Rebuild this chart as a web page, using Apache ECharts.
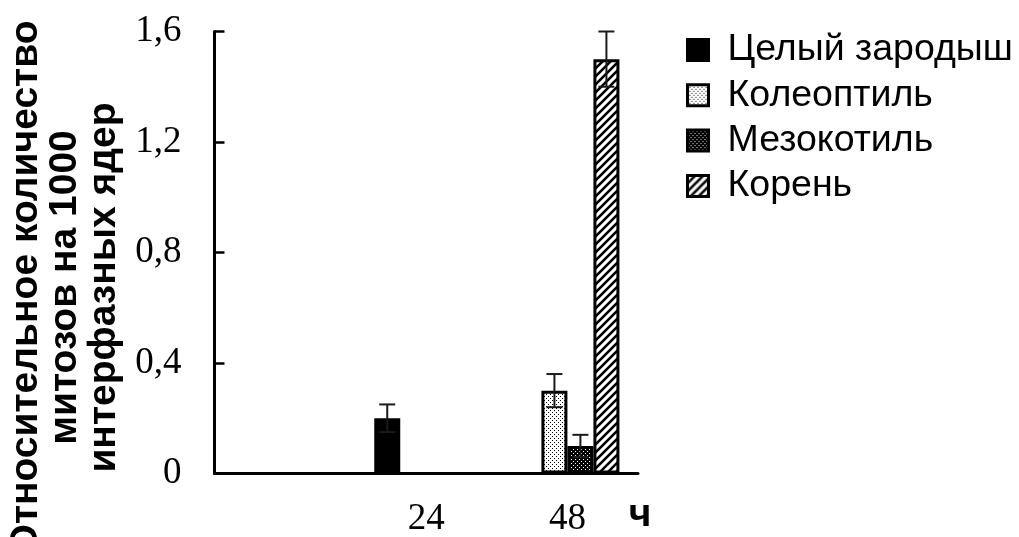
<!DOCTYPE html>
<html>
<head>
<meta charset="utf-8">
<script src="https://cdn.jsdelivr.net/npm/echarts@6/dist/echarts.min.js"></script>
<style>
  html, body { margin: 0; padding: 0; background: #fff; }
  #chart { width: 1019px; height: 537px; }
</style>
</head>
<body>
<div id="chart"></div>
<script>
// Categories along the time axis (hours); the first slot is left empty
const categories = ['', '24', '48'];

// Mean relative mitosis counts per 1000 interphase nuclei (null = not measured)
const seriesNames = ['Целый зародыш', 'Колеоптиль', 'Мезокотиль', 'Корень'];
const wholeEmbryo = [null, 0.2, null];
const coleoptile  = [null, null, 0.3];
const mesocotyl   = [null, null, 0.1];
const root        = [null, null, 1.5];

// Standard errors for the same cells
const wholeEmbryoErr = [null, 0.05, null];
const coleoptileErr  = [null, null, 0.06];
const mesocotylErr   = [null, null, 0.04];
const rootErr        = [null, null, 0.1];

const yTicks = { min: 0, max: 1.6, interval: 0.4 };

const BAR_W = 26;

// Fill textures for the bars
function makePattern(kind) {
  const c = document.createElement('canvas');
  const ctx = c.getContext('2d');
  if (kind === 'light') {
    c.width = 4; c.height = 4;
    ctx.fillStyle = '#fff'; ctx.fillRect(0, 0, 4, 4);
    ctx.fillStyle = '#000';
    ctx.fillRect(0, 0, 1, 1); ctx.fillRect(2, 2, 1, 1);
  } else if (kind === 'dark') {
    c.width = 4; c.height = 4;
    ctx.fillStyle = '#000'; ctx.fillRect(0, 0, 4, 4);
    ctx.fillStyle = '#fff';
    ctx.fillRect(1, 1, 1, 1); ctx.fillRect(3, 3, 1, 1);
  } else {
    c.width = 8; c.height = 8;
    ctx.fillStyle = '#fff'; ctx.fillRect(0, 0, 8, 8);
    ctx.strokeStyle = '#000'; ctx.lineWidth = 2.6;
    ctx.beginPath();
    ctx.moveTo(-2, 10); ctx.lineTo(10, -2);
    ctx.moveTo(-6, 6); ctx.lineTo(6, -6);
    ctx.moveTo(2, 14); ctx.lineTo(14, 2);
    ctx.stroke();
  }
  return { image: c, repeat: 'repeat' };
}

const fills = ['#000', makePattern('light'), makePattern('dark'), makePattern('hatch')];
const values = [wholeEmbryo, coleoptile, mesocotyl, root];
const errors = [wholeEmbryoErr, coleoptileErr, mesocotylErr, rootErr];

// Error bar points: [categoryIndex, value, error, slotIndex]
const errData = [];
values.forEach((arr, s) => {
  arr.forEach((v, i) => {
    if (v != null && errors[s][i] != null) errData.push([i, v, errors[s][i], s]);
  });
});

const barSeries = seriesNames.map((name, s) => ({
  name: name,
  type: 'bar',
  data: values[s],
  barWidth: BAR_W,
  barGap: '0%',
  itemStyle: { color: fills[s], borderColor: '#000', borderWidth: 3 },
  emphasis: { disabled: true }
}));

const errorSeries = {
  type: 'custom',
  data: errData,
  z: 10,
  silent: true,
  renderItem: function (params, api) {
    const ci = api.value(0), v = api.value(1), e = api.value(2), slot = api.value(3);
    const nSlots = seriesNames.length;
    const x = api.coord([ci, v])[0] + (slot - (nSlots - 1) / 2) * BAR_W;
    const yTop = api.coord([ci, v + e])[1];
    const yBot = api.coord([ci, v - e])[1];
    const half = 8;
    const style = { stroke: '#1a1a1a', lineWidth: 2 };
    return {
      type: 'group',
      children: [
        { type: 'line', shape: { x1: x, y1: yBot, x2: x, y2: yTop }, style: style },
        { type: 'line', shape: { x1: x - half, y1: yTop, x2: x + half, y2: yTop }, style: style },
        { type: 'line', shape: { x1: x - half, y1: yBot, x2: x + half, y2: yBot }, style: style }
      ]
    };
  }
};

const chart = echarts.init(document.getElementById('chart'), null, { renderer: 'canvas' });
chart.setOption({
  animation: false,
  backgroundColor: '#fff',
  grid: {
    left: 214.5, right: 381, top: 31.5, bottom: 63.5,
    containLabel: false,
    outerBoundsMode: 'none'
  },
  legend: {
    orient: 'vertical',
    left: 686,
    top: 31,
    padding: 0,
    icon: 'rect',
    itemWidth: 21,
    itemHeight: 21,
    itemGap: 7.3,
    selectedMode: false,
    data: seriesNames,
    itemStyle: { borderColor: '#000', borderWidth: 3 },
    textStyle: {
      fontFamily: 'Liberation Sans',
      fontSize: 37.5,
      lineHeight: 38,
      color: '#000',
      padding: [0, 0, 0, 14]
    }
  },
  xAxis: {
    type: 'category',
    data: categories,
    axisLine: { lineStyle: { color: '#000', width: 3 } },
    axisTick: { inside: true, length: 10, interval: 0, lineStyle: { color: '#000', width: 2.5 } },
    axisLabel: {
      interval: 0,
      margin: 27,
      fontFamily: 'Liberation Serif',
      fontSize: 37,
      color: '#000'
    },
    splitLine: { show: false },
    name: 'ч',
    nameLocation: 'end',
    nameGap: 2,
    nameTextStyle: {
      fontFamily: 'Liberation Sans',
      fontWeight: 'bold',
      fontSize: 39,
      color: '#000',
      align: 'center',
      verticalAlign: 'top',
      padding: [22, 0, 0, 0]
    }
  },
  yAxis: {
    type: 'value',
    min: yTicks.min,
    max: yTicks.max,
    interval: yTicks.interval,
    axisLine: { show: true, lineStyle: { color: '#000', width: 3 } },
    axisTick: { show: true, inside: true, length: 10, lineStyle: { color: '#000', width: 2.5 } },
    splitLine: { show: false },
    axisLabel: {
      margin: 33,
      fontFamily: 'Liberation Serif',
      fontSize: 37,
      color: '#000',
      formatter: v => String(+v.toFixed(1)).replace('.', ',')
    },
    name: 'Относительное количество\nмитозов на 1000\nинтерфазных ядер',
    nameLocation: 'middle',
    nameRotate: 90,
    nameGap: 91,
    nameTextStyle: {
      fontFamily: 'Liberation Sans',
      fontWeight: 'bold',
      fontSize: 39,
      lineHeight: 39,
      color: '#000',
      padding: [0, 70, 0, 0]
    }
  },
  series: barSeries.concat([errorSeries])
});
</script>
</body>
</html>
